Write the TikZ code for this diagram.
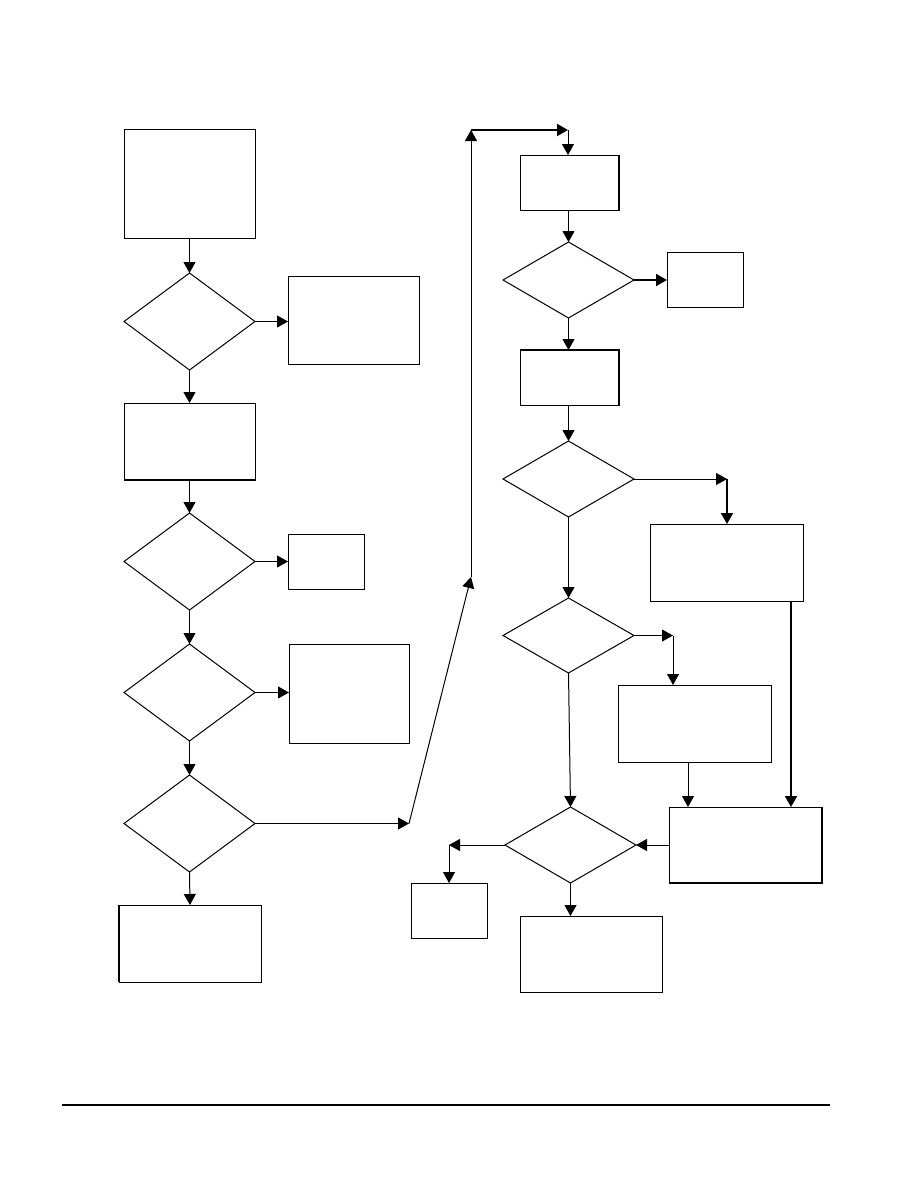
\documentclass[tikz,border=0pt]{standalone}
\usetikzlibrary{shapes.geometric,arrows.meta,calc}
\tikzset{
  box/.style={draw, rectangle, line width=1pt, inner sep=0pt, outer sep=0pt},
  dec/.style={draw, diamond, line width=1pt, inner sep=0pt, outer sep=0pt, minimum width=131pt},
  arr/.style={line width=1pt, -{Triangle[length=11pt,width=12pt]}},
  tarr/.style={line width=2pt, -{Triangle[length=11pt,width=12pt]}},
  ln/.style={line width=1pt},
}
\begin{document}
\begin{tikzpicture}[x=1pt,y=-1pt]
\useasboundingbox (0,0) rectangle (918,1188);
% left column
\node[box, minimum width=131pt, minimum height=108pt] (A) at (189.5,184) {};
\node[dec, minimum height=97pt] (D1) at (189.5,321.5) {};
\node[box, minimum width=131pt, minimum height=88pt] (B) at (353.5,320) {};
\node[box, minimum width=131pt, minimum height=77pt] (C) at (189.5,441.5) {};
\node[dec, minimum height=97pt] (D2) at (189.5,561.5) {};
\node[box, minimum width=76pt, minimum height=55pt] (E) at (326,561.5) {};
\node[dec, minimum height=97pt] (D3) at (189.5,692.5) {};
\node[box, minimum width=120pt, minimum height=99pt] (F) at (349,693.5) {};
\node[dec, minimum height=97pt] (D4) at (189.5,823.5) {};
\node[box, minimum width=142pt, minimum height=77pt] (H) at (190,943.5) {};
% right column
\node[box, minimum width=99pt, minimum height=55pt] (G) at (569.5,182.5) {};
\node[dec, minimum height=76pt] (D5) at (568.5,280) {};
\node[box, minimum width=76pt, minimum height=55pt] (I) at (705,279.5) {};
\node[box, minimum width=99pt, minimum height=55pt] (J) at (569.5,377.5) {};
\node[dec, minimum height=76pt] (D6) at (568.5,479) {};
\node[box, minimum width=153pt, minimum height=77pt] (K) at (726.5,562.5) {};
\node[dec, minimum height=75pt] (D7) at (568.5,635.5) {};
\node[box, minimum width=153pt, minimum height=77pt] (L) at (694.5,723.5) {};
\node[dec, minimum height=76pt] (D8) at (570.5,845) {};
\node[box, minimum width=153pt, minimum height=76pt] (M) at (745.5,845) {};
\node[box, minimum width=76pt, minimum height=55pt] (N) at (449,910.5) {};
\node[box, minimum width=142pt, minimum height=76pt] (O) at (591,954) {};
% heavier box edges
\draw[line width=2pt] (C.south west) -- (C.south east);
\draw[line width=2pt] (H.north west) -- (H.south west);
\draw[line width=2pt] (G.north east) -- (G.south east);
\draw[line width=2pt] (J.north west) -- (J.north east) -- (J.south east);
\draw[line width=2pt] (M.north east) -- (M.south east) -- (M.south west);
% free coordinates
\coordinate (c1) at (409,823.5);
\coordinate (c2) at (471,577);
\coordinate (c3) at (471,130);
\coordinate (c4) at (568,130);
\coordinate (c5) at (727,479);
\coordinate (c6) at (673,635.5);
\coordinate (c7) at (449,845);
\coordinate (f1) at (62,1105);
\coordinate (f2) at (830,1105);
% left connectors
\draw[arr] (A.south) -- (D1.north);
\draw[arr] (D1.east) -- (D1.east -| B.west);
\draw[arr] (D1.south) -- (C.north);
\draw[arr] (C.south) -- (D2.north);
\draw[arr] (D2.east) -- (D2.east -| E.west);
\draw[arr] (D2.south) -- (D3.north);
\draw[arr] (D3.east) -- (D3.east -| F.west);
\draw[arr] (D3.south) -- (D4.north);
\draw[arr] (D4.south) -- (H.north);
\draw[arr] (D4.east) -- (c1);
\draw[arr] (c1) -- (c2);
\draw[arr] (c2) -- (c3);
\draw[tarr] (c3) -- (c4);
\draw[arr] (c4) -- (c4 |- G.north);
% right connectors
\draw[arr] (D5.north |- G.south) -- (D5.north);
\draw[tarr] (D5.east) -- (D5.east -| I.west);
\draw[arr] (D5.south) -- (D5.south |- J.north);
\draw[arr] (D6.north |- J.south) -- (D6.north);
\draw[arr] (D6.east) -- (c5);
\draw[tarr] (c5) -- (c5 |- K.north);
\draw[arr] (D6.south) -- (D7.north);
\draw[arr] (D7.east) -- (c6);
\draw[arr] (c6) -- (c6 |- L.north);
\draw[tarr] ([xshift=64.5pt]K.south) -- ([xshift=64.5pt]K.south |- M.north);
\draw[arr] ([xshift=-6.5pt]L.south) -- ([xshift=-6.5pt]L.south |- M.north);
\draw[arr] (D7.south) -- (D8.north);
\draw[arr] (M.west) -- (D8.east);
\draw[arr] (D8.west) -- (c7);
\draw[arr] (c7) -- (N.north);
\draw[arr] (D8.south) -- (D8.south |- O.north);
% footer rule
\draw[line width=1.5pt] (f1) -- (f2);
\end{tikzpicture}
\end{document}
